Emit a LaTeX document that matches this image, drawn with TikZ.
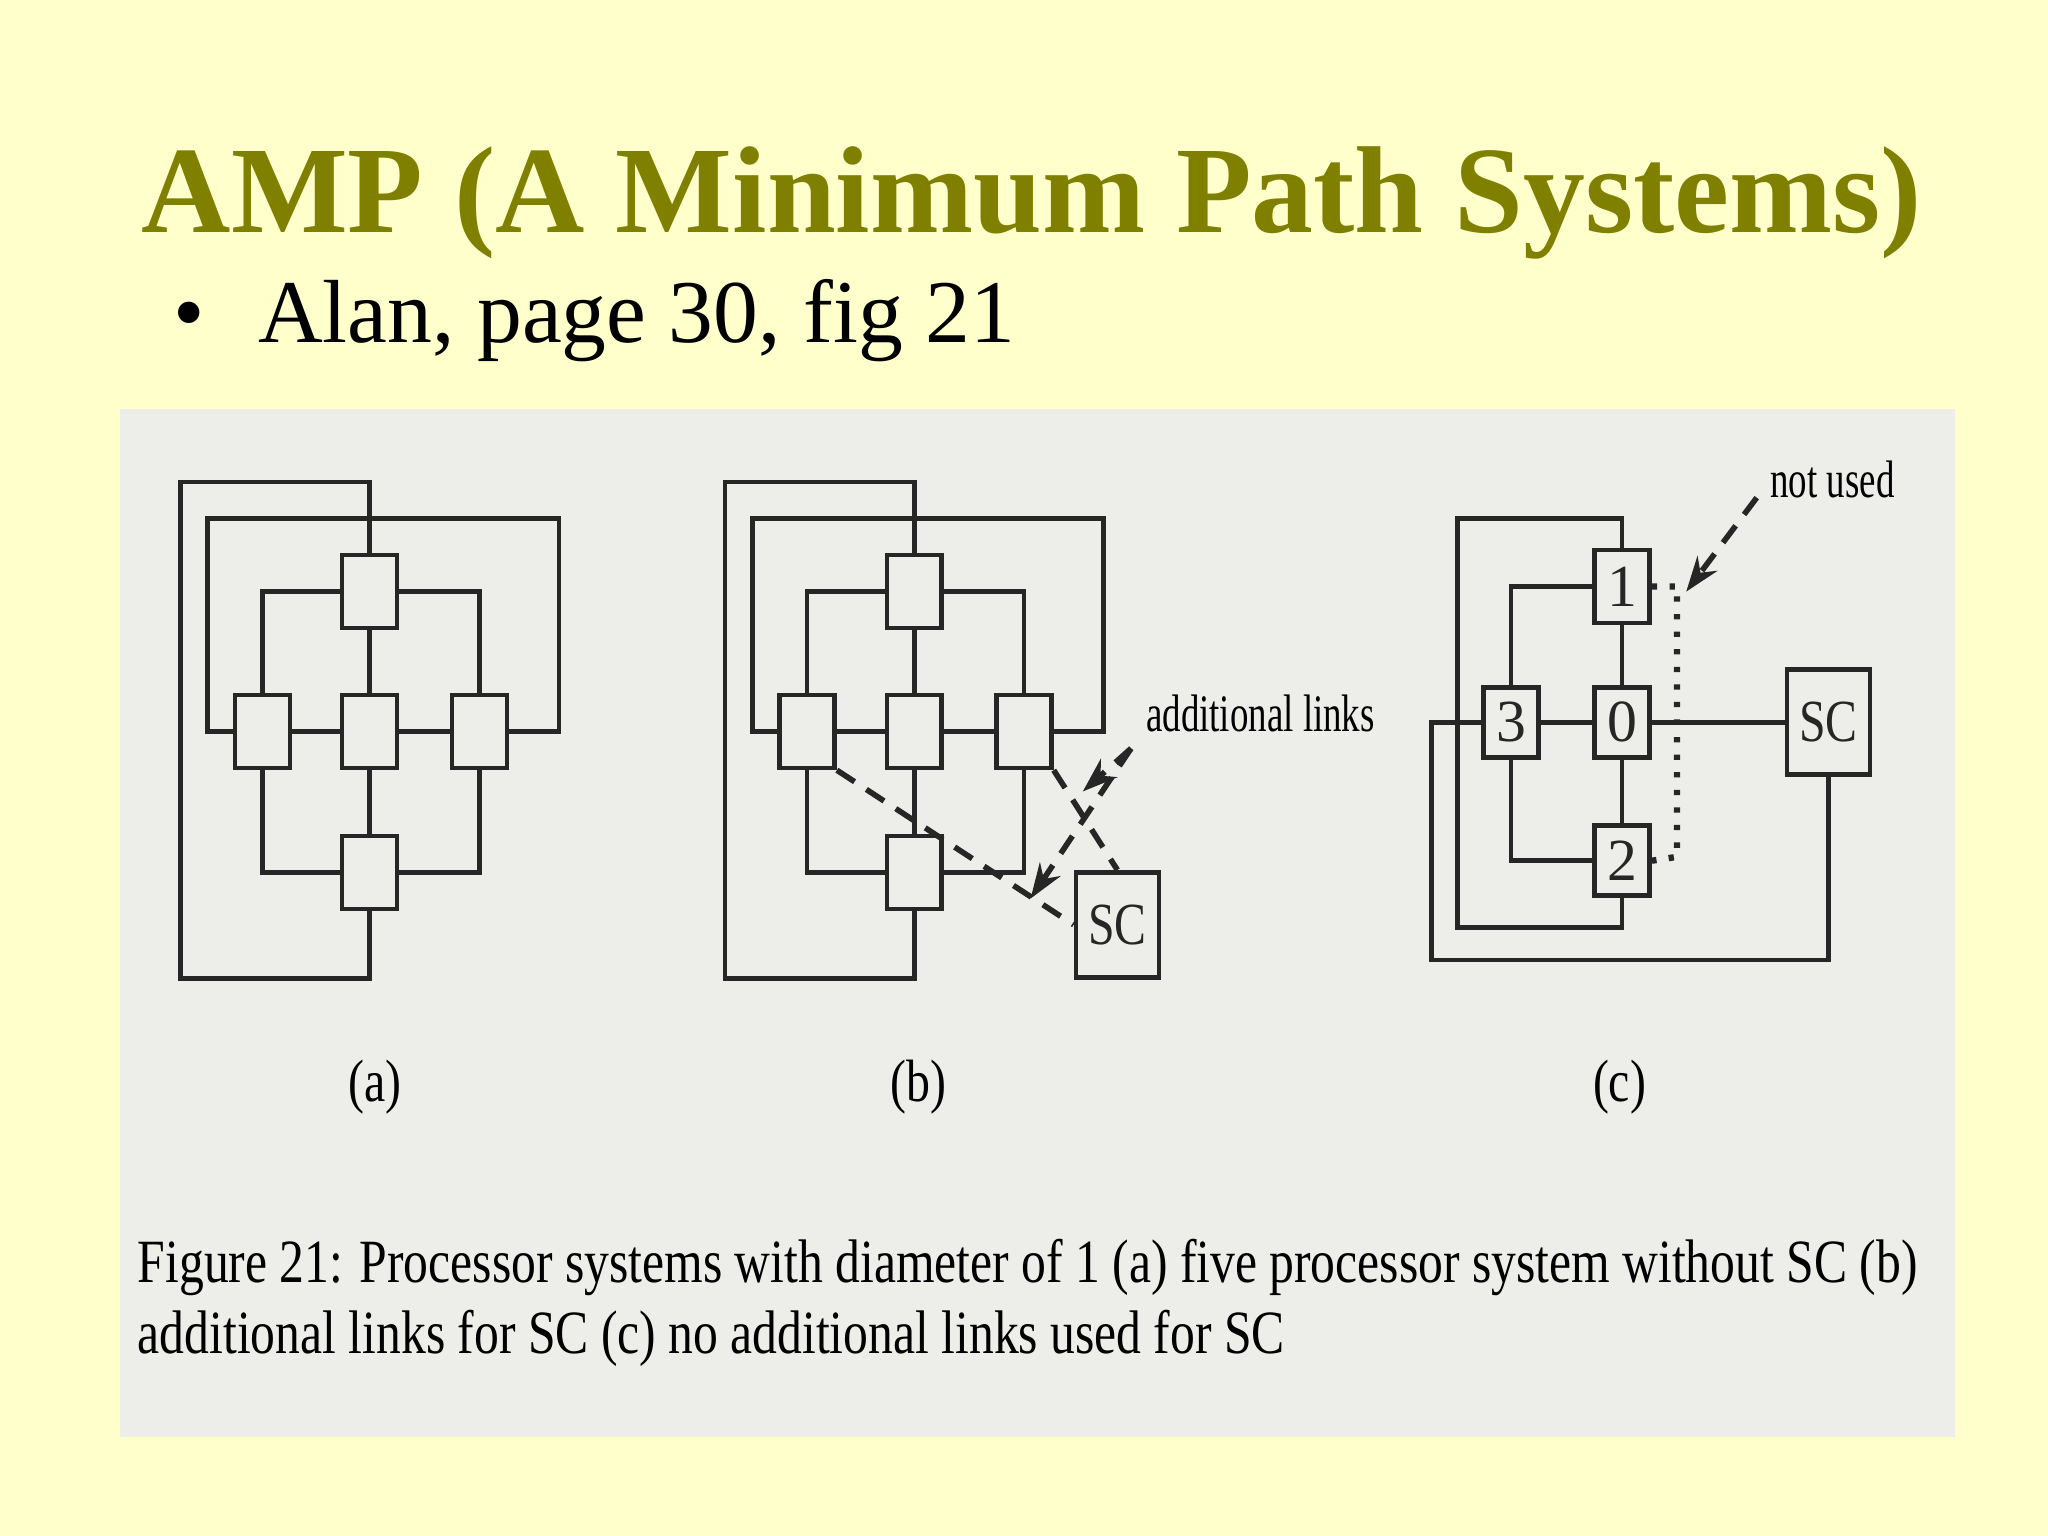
\documentclass[tikz,border=0pt]{standalone}
\usepackage{fontspec}
\setmainfont{Liberation Serif}
\usetikzlibrary{arrows.meta}
\definecolor{bgy}{HTML}{FFFFCC}
\definecolor{olive}{HTML}{808000}
\definecolor{panel}{HTML}{EDEDEA}
\newcommand{\cond}[1]{\scalebox{0.8}[1]{#1}}
\tikzset{
  ln/.style={line width=1.3pt, black!85},
  pbox/.style={draw, line width=1.3pt, black!85, fill=panel, minimum width=0.549cm, minimum height=0.73cm, inner sep=0pt, font=\fontsize{17}{17}\selectfont},
  scbox/.style={pbox, minimum width=0.83cm, minimum height=1.05cm},
  dsh/.style={line width=1.6pt, black!85, dash pattern=on 6pt off 4pt},
  lab/.style={font=\fontsize{17}{17}\selectfont, inner sep=0pt},
  smlab/.style={font=\fontsize{15}{15}\selectfont, inner sep=0pt}
}
\begin{document}
\begin{tikzpicture}[x=0.013061cm,y=-0.013061cm]
\fill[bgy] (0,0) rectangle (1568,1176);
\fill[panel] (92,313) rectangle (1497,1100);
\node[anchor=base, text=olive, font=\fontsize{35.2}{36}\selectfont\bfseries, inner sep=0pt] (title) at (790,178) {AMP (A Minimum Path Systems)};
\node[anchor=base west, font=\fontsize{25.5}{26}\selectfont, inner sep=0pt] (bul) at (132,262) {•\hspace{0.6em}Alan, page 30, fig 21};
% (a) and (b)
\foreach \s/\dx in {a/-417, b/0} {
\begin{scope}[xshift=\dx*0.013061cm]
\node[pbox] (\s t) at (700,453) {};
\node[pbox] (\s l) at (618,560) {};
\node[pbox] (\s c) at (700,560) {};
\node[pbox] (\s r) at (784,560) {};
\node[pbox] (\s b) at (700,668) {};
\draw[ln] (\s l) -- (\s c) -- (\s r);
\draw[ln] (\s t) -- (\s c) -- (\s b);
\draw[ln] (\s t.west) -| (\s l.north);
\draw[ln] (\s t.east) -| (\s r.north);
\draw[ln] (\s l.south) |- (\s b.west);
\draw[ln] (\s r.south) |- (\s b.east);
\draw[ln] (\s t.north) |- (555,369) |- (\s b.south |- 0,749) -- (\s b.south);
\draw[ln] (\s l.west) -- (576,560) |- (845,397) |- (\s r.east);
\end{scope}
}
\node[lab] (la) at (287,832) {\cond{(a)}};
\node[lab] (lb) at (703,832) {\cond{(b)}};
\node[lab] (lc) at (1240,832) {\cond{(c)}};
% (b) extras
\node[scbox] (bsc) at (855.5,708) {\cond{SC}};
\draw[dsh] (bl.south east) -- (bsc.west);
\draw[dsh] (br.south east) -- (bsc.north);
\node[smlab, anchor=base west] (addl) at (877,560) {\scalebox{0.7}[1]{additional links}};
\coordinate (as) at (866,573);
\coordinate (at1) at (829,606);
\coordinate (at2) at (789,688);
\draw[dsh, -{Stealth[length=10pt,width=7pt]}] (as) -- (at1);
\draw[dsh, -{Stealth[length=10pt,width=7pt]}] (as) -- (at2);
% (c)
\node[pbox, minimum height=0.73cm] (c1) at (1242,449) {1};
\node[pbox, minimum height=0.70cm] (c0) at (1242,553) {0};
\node[pbox, minimum height=0.70cm] (c3) at (1157,553) {3};
\node[pbox, minimum height=0.70cm] (c2) at (1242,659) {2};
\node[scbox] (csc) at (1400,553) {\cond{SC}};
\draw[ln] (c3) -- (c0) -- (csc);
\draw[ln] (c1) -- (c0) -- (c2);
\draw[ln] (c1.west) -| (c3.north);
\draw[ln] (c3.south) |- (c2.west);
\draw[ln] (c1.north) |- (1116,397) |- (1242,710) -- (c2.south);
\draw[ln] (c3.west) -- (1096,553) |- (1400,735) -- (csc.south);
\draw[line width=1.8pt, black!85, dash pattern=on 1.5pt off 3.5pt] (c1.east) -- (1284,449) -- (1284,656) -- (c2.east);
\node[smlab, anchor=base west] (nu) at (1355,381) {\scalebox{0.7}[1]{not used}};
\coordinate (ns) at (1345,381);
\coordinate (ne) at (1291,453);
\draw[dsh, -{Stealth[length=10pt,width=7pt]}] (ns) -- (ne);
% caption
\node[anchor=base west, inner sep=0pt, font=\fontsize{17.5}{17.5}\selectfont] (cap1) at (105,982) {\scalebox{0.807}[1]{Figure 21: Processor systems with diameter of 1 (a) five processor system without SC (b)}};
\node[anchor=base west, inner sep=0pt, font=\fontsize{17.5}{17.5}\selectfont] (cap2) at (105,1036) {\scalebox{0.807}[1]{additional links for SC (c) no additional links used for SC}};
\end{tikzpicture}
\end{document}
